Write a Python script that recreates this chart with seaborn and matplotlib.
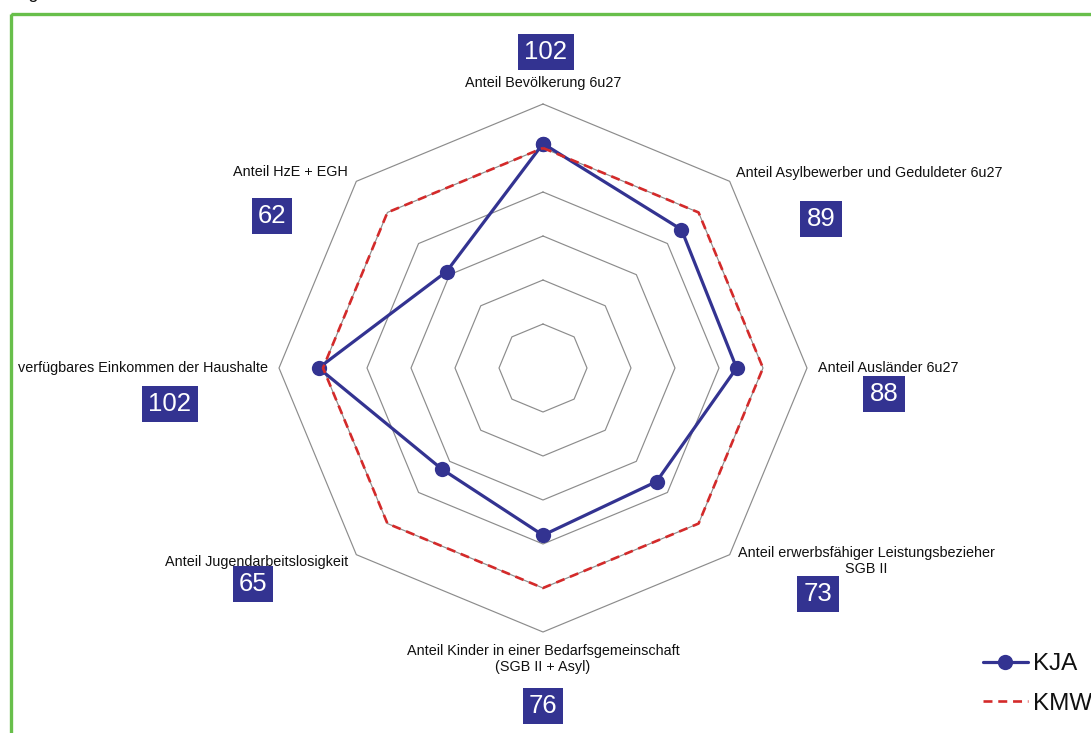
import numpy as np
import pandas as pd
import matplotlib
matplotlib.use("Agg")
import matplotlib.pyplot as plt
from matplotlib.patches import Rectangle
import seaborn as sns

# Indicators, clockwise from the top
categories = [
    "Anteil Bevölkerung 6u27",
    "Anteil Asylbewerber und Geduldeter 6u27",
    "Anteil Ausländer 6u27",
    "Anteil erwerbsfähiger Leistungsbezieher\nSGB II",
    "Anteil Kinder in einer Bedarfsgemeinschaft\n(SGB II + Asyl)",
    "Anteil Jugendarbeitslosigkeit",
    "verfügbares Einkommen der Haushalte",
    "Anteil HzE + EGH",
]
kja = [102, 89, 88, 73, 76, 65, 102, 62]
kmw = [100, 100, 100, 100, 100, 100, 100, 100]
ring_levels = [20, 40, 60, 80, 100, 120]

NAVY = "#333391"
RED = "#D42A2A"
GRID = "#8c8c8c"
GREEN = "#68BF4B"
INK = "#111111"

sns.set_theme(style="white")
plt.rcParams["font.family"] = ["Liberation Sans", "DejaVu Sans"]

W, H = 1091, 733
fig = plt.figure(figsize=(W / 100, H / 100), dpi=100)
ax = fig.add_axes([0, 0, 1, 1])
ax.set_xlim(0, W)
ax.set_ylim(H, 0)
ax.set_axis_off()

cx, cy = 543, 368          # chart centre
scale = 2.2                # pixels per index point
n = len(categories)
angles = np.pi / 2 - np.arange(n) * 2 * np.pi / n


def to_xy(values):
    r = np.asarray(values, dtype=float) * scale
    x = cx + r * np.cos(angles)
    y = cy - r * np.sin(angles)
    return np.append(x, x[0]), np.append(y, y[0])


# octagonal grid rings
for lvl in ring_levels:
    gx, gy = to_xy([lvl] * n)
    ax.plot(gx, gy, color=GRID, lw=0.85, zorder=1)

# series
kx, ky = to_xy(kja)
df_kja = pd.DataFrame({"x": kx, "y": ky})
sns.lineplot(data=df_kja, x="x", y="y", sort=False, estimator=None, ax=ax,
             color=NAVY, lw=2.3, marker="o", markersize=11,
             markeredgewidth=0, label="KJA", zorder=3)

mx, my = to_xy(kmw)
df_kmw = pd.DataFrame({"x": mx, "y": my})
sns.lineplot(data=df_kmw, x="x", y="y", sort=False, estimator=None, ax=ax,
             color=RED, lw=1.9, linestyle=(0, (3.4, 2.2)), label="KMW",
             zorder=4)

ax.set_xlim(0, W)
ax.set_ylim(H, 0)

# axis labels and value boxes
label_pos = [
    (543, 83, "center"),
    (869, 173, "center"),
    (888, 368, "center"),
    (866, 561, "center"),
    (543, 659, "center"),
    (257, 562, "center"),
    (268, 368, "right"),
    (290, 172, "center"),
]
box_pos = [
    (546, 52),
    (821, 219),
    (884, 394),
    (818, 594),
    (543, 706),
    (253, 584),
    (170, 404),
    (272, 216),
]
for cat, val, (lx, ly, ha), (bx, by) in zip(categories, kja, label_pos, box_pos):
    ax.text(lx, ly, cat, ha=ha, va="center", fontsize=10.4, color=INK,
            linespacing=1.1, multialignment="center")
    ax.text(bx, by, f"{val}", ha="center", va="center", fontsize=18.5,
            color="white",
            bbox=dict(boxstyle="square,pad=0.24", fc=NAVY, ec="none"))

# legend, running past the right edge
ax.legend(loc="center left", bbox_to_anchor=(983, 684),
          bbox_transform=ax.transData, frameon=False, fontsize=17.5,
          handlelength=1.85, handletextpad=0.2, labelspacing=0.72,
          borderpad=0, borderaxespad=0, labelcolor=INK)

# green frame around the chart
frame = Rectangle((10.5 / W, 1 - 14 / H), 2, -2, transform=fig.transFigure,
                  fill=False, ec=GREEN, lw=2.4, clip_on=False)
fig.add_artist(frame)

# caption above the frame
fig.text(39 / W, 1.0 + 2 / H, "Abbildung", ha="right", va="baseline",
         fontsize=13, color=INK)

fig.savefig("out.png", dpi=100)
